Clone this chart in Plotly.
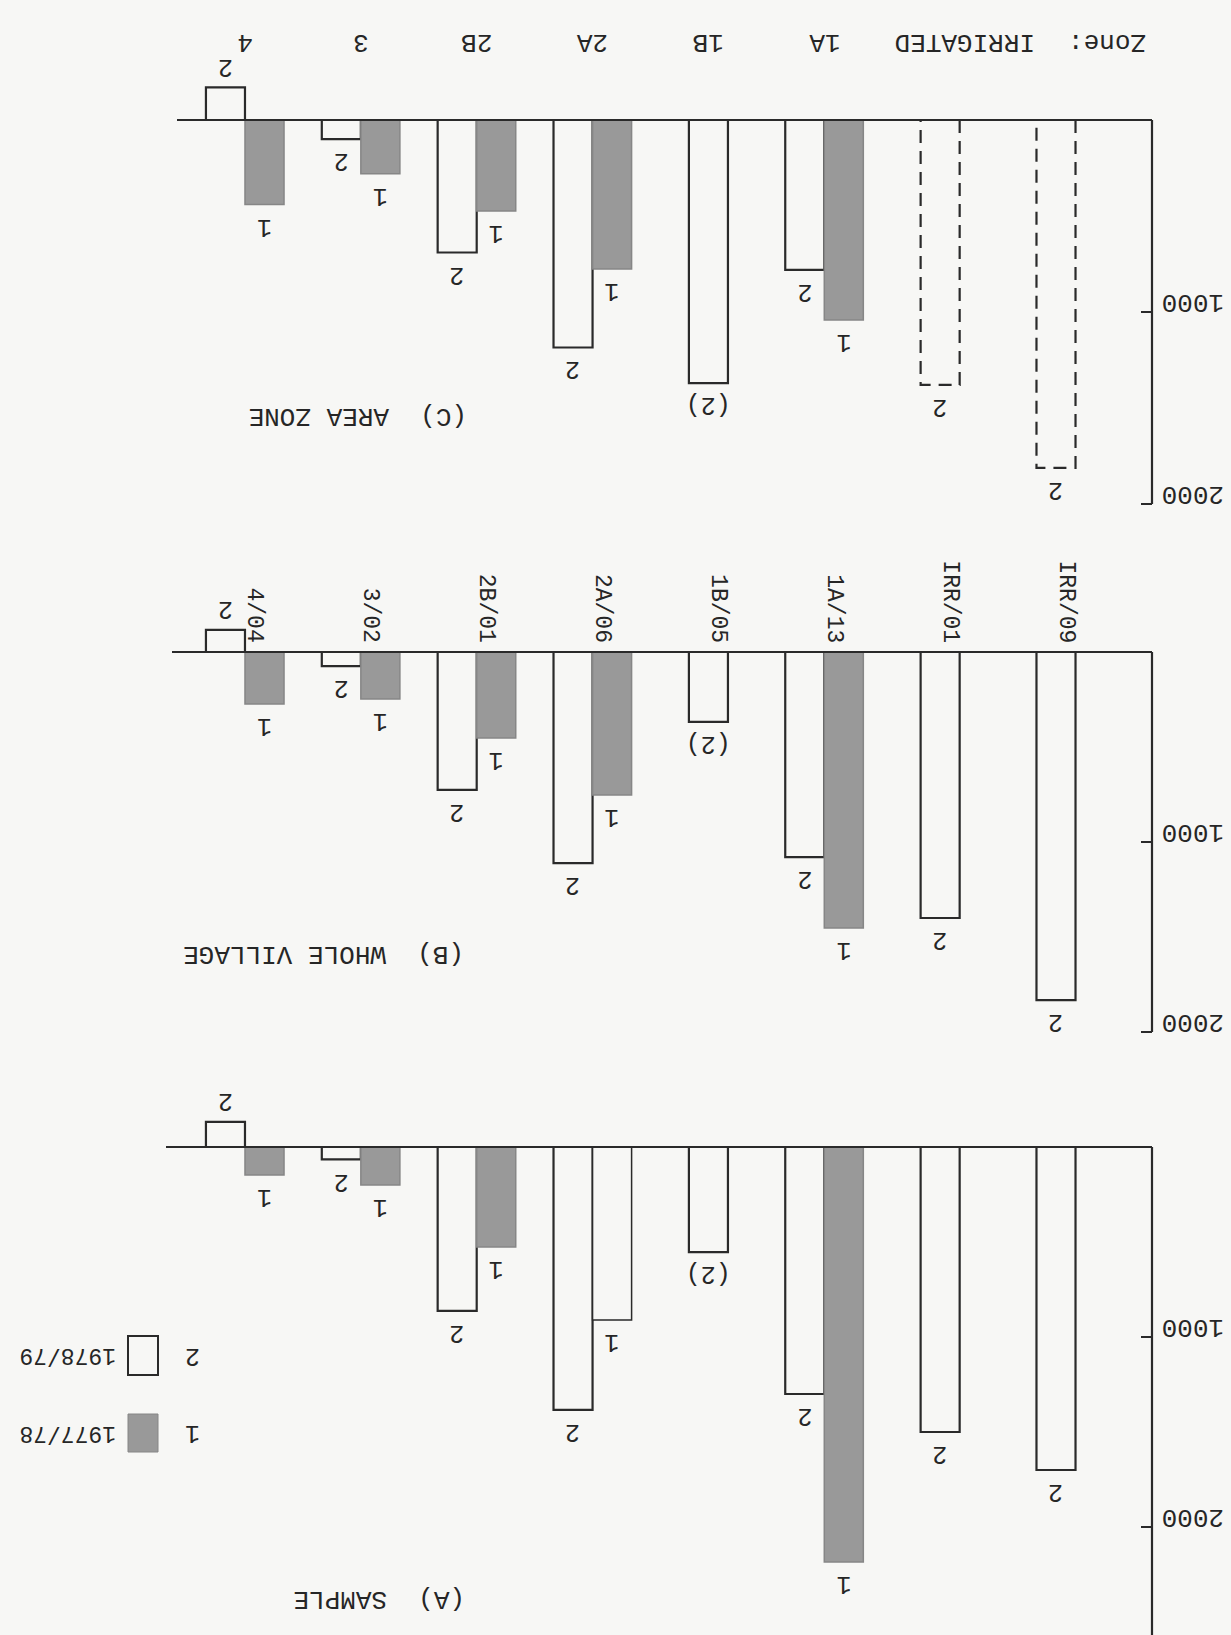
import plotly.graph_objects as go

# ---------------------------------------------------------------- data
CATEGORIES = ["IRR/09", "IRR/01", "1A", "1B", "2A", "2B", "3", "4"]
VILLAGE_LABELS = ["IRR/09", "IRR/01", "1A/13", "1B/05", "2A/06", "2B/01", "3/02", "4/04"]
ZONE_LABELS = ["", "", "1A", "1B", "2A", "2B", "3", "4"]

# 1 = 1977/78 (shaded), 2 = 1978/79 (open)
SAMPLE_7778 = [None, None, 2184, None, 911, 526, 200, 147]
SAMPLE_7879 = [1700, 1500, 1300, 553, 1384, 863, 65, -132]
VILLAGE_7778 = [None, None, 1453, None, 753, 453, 247, 274]
VILLAGE_7879 = [1832, 1400, 1080, 368, 1111, 726, 74, -116]
ZONE_7778 = [None, None, 1042, None, 776, 474, 280, 440]
ZONE_7879 = [1812, 1380, 781, 1370, 1185, 690, 100, -170]

SAMPLE_UNSHADED_1 = ["2A"]            # 1977/78 bar drawn open in the sample panel
ZONE_DASHED_2 = ["IRR/09", "IRR/01"]  # zone bars drawn with a dashed outline
BRACKETED_2 = ["1B"]                  # 1978/79 label printed as "(2)"

TICK_VALUES = [1000, 2000]
TICK_LABELS = ["1000", "2000"]

# ---------------------------------------------------------------- style / geometry
W, H = 1231, 1635
PLOT_W = 1152                    # plot area width (value axis sits on its right edge)
STEP_PX = 115.86                 # distance between category slots
X0_PX = 1056                     # pixel column of the first slot
BAR_W = 0.337
X_RANGE = [X0_PX / STEP_PX, (X0_PX - PLOT_W) / STEP_PX]

FONT = "Liberation Mono, Courier New, monospace"
INK = "#262626"
LINE = "#2a2a2a"
SHADE = "#999999"
PAPER = "#f7f7f5"

PANELS = [
    dict(title="(A)\u00a0\u00a0SAMPLE", old=SAMPLE_7778, new=SAMPLE_7879, ax="",
         base=1147, scale=0.190, top=1085, bottom=H, left=166, axis_end=None,
         title_xy=(379, 1599)),
    dict(title="(B)\u00a0\u00a0WHOLE VILLAGE", old=VILLAGE_7778, new=VILLAGE_7879, ax="2",
         base=652, scale=0.190, top=555, bottom=1075, left=172, axis_end=2000,
         title_xy=(324, 954)),
    dict(title="(C)\u00a0\u00a0AREA ZONE", old=ZONE_7778, new=ZONE_7879, ax="3",
         base=120, scale=0.192, top=55, bottom=545, left=177, axis_end=2000,
         title_xy=(358, 416)),
]


def paper_x(px):
    return px / PLOT_W


def paper_y(py):
    return (H - py) / H


fig = go.Figure()
shapes = []
annotations = []


def text(t, x, y, xref="paper", yref="paper", size=25, angle=180,
         xanchor="center", yanchor="middle", **kw):
    annotations.append(dict(text=t, x=x, y=y, xref=xref, yref=yref, showarrow=False,
                            textangle=angle, xanchor=xanchor, yanchor=yanchor,
                            font=dict(family=FONT, size=size, color=INK), **kw))


layout_axes = {}
for p in PANELS:
    xa, ya = "x" + p["ax"], "y" + p["ax"]
    v_top = (p["top"] - p["base"]) / p["scale"]
    v_bot = (p["bottom"] - p["base"]) / p["scale"]
    dashed = p["ax"] == "3"
    unshaded = SAMPLE_UNSHADED_1 if p["ax"] == "" else []

    open_x, open_y, old_x, old_y, old_fill, old_line = [], [], [], [], [], []
    labels = []
    for i, cat in enumerate(CATEGORIES):
        v_old, v_new = p["old"][i], p["new"][i]
        paired = v_old is not None
        xn = i + BAR_W / 2 if paired else i
        if paired:
            xo = i - BAR_W / 2
            old_x.append(xo)
            old_y.append(v_old)
            if cat in unshaded:
                old_fill.append(PAPER)
                old_line.append(LINE)
            else:
                old_fill.append(SHADE)
                old_line.append("#868686")
            labels.append((xo, v_old, "1"))
        if dashed and cat in ZONE_DASHED_2:
            # projected bar: dashed outline hanging from the baseline
            fig.add_trace(go.Scatter(
                x=[xn - BAR_W / 2, xn - BAR_W / 2, xn + BAR_W / 2, xn + BAR_W / 2],
                y=[0, v_new, v_new, 0], mode="lines", xaxis=xa, yaxis=ya,
                line=dict(color=LINE, width=2.2, dash="13px,8px"),
                showlegend=False, hoverinfo="skip"))
        else:
            open_x.append(xn)
            open_y.append(v_new)
        labels.append((xn, v_new, "(2)" if cat in BRACKETED_2 else "2"))

    fig.add_trace(go.Bar(x=open_x, y=open_y, width=BAR_W, xaxis=xa, yaxis=ya,
                         marker=dict(color=PAPER, line=dict(color=LINE, width=2.2)),
                         showlegend=False, hoverinfo="skip"))
    fig.add_trace(go.Bar(x=old_x, y=old_y, width=BAR_W, xaxis=xa, yaxis=ya,
                         marker=dict(color=old_fill, line=dict(color=old_line, width=1.5)),
                         showlegend=False, hoverinfo="skip"))

    for x, v, t in labels:
        if v >= 0:
            text(t, x, v, xref=xa, yref=ya, yanchor="top", yshift=-5)
        else:
            text(t, x, v, xref=xa, yref=ya, yanchor="bottom", yshift=5)

    # baseline and value axis line
    shapes.append(dict(type="line", xref=xa, yref=ya,
                       x0=(X0_PX - p["left"]) / STEP_PX, x1=X_RANGE[1], y0=0, y1=0,
                       line=dict(color=LINE, width=2.2)))
    shapes.append(dict(type="line", xref="paper", yref=ya, x0=1, x1=1, y0=0,
                       y1=p["axis_end"] if p["axis_end"] is not None else v_bot,
                       line=dict(color=LINE, width=2.2)))

    tx, ty = p["title_xy"]
    text(p["title"], paper_x(tx), paper_y(ty), size=26)

    key = p["ax"]
    layout_axes["xaxis" + key] = dict(domain=[0, 1], range=X_RANGE, visible=False,
                                      anchor=ya, fixedrange=True)
    layout_axes["yaxis" + key] = dict(
        domain=[paper_y(p["bottom"]), paper_y(p["top"])], range=[v_bot, v_top],
        anchor=xa, side="right", showgrid=False, zeroline=False, showline=False,
        ticks="inside", ticklen=11, tickwidth=2, tickcolor=LINE,
        tickvals=TICK_VALUES, ticktext=TICK_LABELS, tickangle=180,
        ticklabelstandoff=71,
        tickfont=dict(family=FONT, size=26, color=INK))

# category labels of the whole-village panel (vertical, resting on the baseline)
for i, lab in enumerate(VILLAGE_LABELS):
    text(lab, i, 0, xref="x2", yref="y2", size=23, angle=90,
         yanchor="bottom", yshift=7, xshift=9)

# zone row above the area-zone panel
for i, lab in enumerate(ZONE_LABELS):
    if lab:
        text(lab, i, paper_y(42), xref="x3", size=26)
text("IRRIGATED", paper_x(965), paper_y(42), size=26)
text("Zone:", paper_x(1107), paper_y(42), size=26)

# key
shapes.append(dict(type="rect", xref="paper", yref="paper",
                   x0=paper_x(128), x1=paper_x(158), y0=paper_y(1452), y1=paper_y(1414),
                   fillcolor=SHADE, line=dict(color="#868686", width=1)))
shapes.append(dict(type="rect", xref="paper", yref="paper",
                   x0=paper_x(128), x1=paper_x(158), y0=paper_y(1375), y1=paper_y(1336),
                   fillcolor=PAPER, line=dict(color=LINE, width=2)))
text("1", paper_x(193), paper_y(1433))
text("2", paper_x(193), paper_y(1356))
text("1977/78", paper_x(68), paper_y(1433), size=23)
text("1978/79", paper_x(68), paper_y(1355), size=23)

fig.update_layout(
    width=W, height=H, autosize=False,
    margin=dict(l=0, r=W - PLOT_W, t=0, b=0),
    paper_bgcolor=PAPER, plot_bgcolor=PAPER,
    barmode="overlay", bargap=0,
    shapes=shapes, annotations=annotations,
    **layout_axes,
)

fig.write_html("out.html", config={"staticPlot": True})
